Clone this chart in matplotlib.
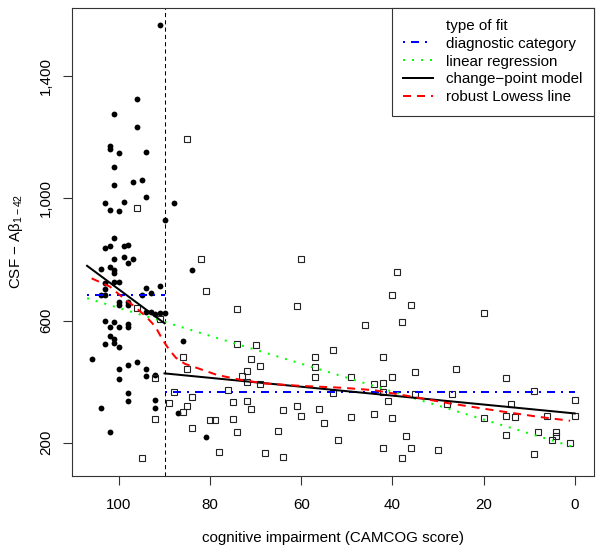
import matplotlib
matplotlib.use("Agg")
import matplotlib.pyplot as plt
from matplotlib.lines import Line2D
from matplotlib.ticker import FuncFormatter

plt.rcParams['font.family'] = ['Liberation Sans', 'DejaVu Sans']
plt.rcParams['mathtext.fontset'] = 'custom'
plt.rcParams['mathtext.rm'] = 'Liberation Sans'
plt.rcParams['mathtext.it'] = 'Liberation Sans:italic'
plt.rcParams['mathtext.default'] = 'regular'

# controls (filled circles)
ctrl_x = [91, 96, 101, 96, 102, 102, 100, 94, 101, 101, 97, 95, 94, 103, 102, 100, 99, 88, 90, 101,
          103, 102, 99, 98, 101, 99, 97, 98, 104, 102, 101, 101, 84, 101, 100, 103, 103, 103, 104, 94,
          91, 93, 95, 100, 100, 98, 98, 94, 93, 92, 91, 90, 103, 101, 102, 100, 98, 98, 102, 101,
          101, 100, 103, 86, 106, 100, 98, 96, 94, 100, 94, 92, 98, 98, 92, 92, 104, 102, 87, 81]
ctrl_y = [1567, 1324, 1275, 1234, 1171, 1160, 1147, 1151, 1103, 1042, 1053, 1060, 1005, 983, 961, 958, 988, 985, 929, 869,
          837, 845, 844, 848, 802, 809, 800, 788, 769, 775, 765, 757, 764, 727, 727, 723, 703, 683, 683, 705,
          712, 690, 682, 662, 651, 662, 651, 628, 627, 620, 623, 626, 598, 595, 579, 579, 590, 579, 548, 538,
          525, 513, 522, 533, 474, 442, 454, 463, 441, 408, 417, 422, 362, 337, 341, 315, 314, 234, 297, 220]

# patients (open squares)
pat_x = [85, 96, 92, 91, 96, 92, 95, 86, 85, 88, 84, 89, 85, 86, 84, 78, 80, 79, 76, 75,
         75, 74, 72, 71, 74, 70, 71, 69, 72, 73, 72, 69, 68, 64, 65, 64, 61, 60, 57, 57,
         57, 56, 55, 53, 53, 52, 81, 74, 61, 82, 60, 39, 40, 36, 20, 46, 38, 42, 26, 49,
         44, 42, 40, 35, 15, 42, 41, 35, 27, 9, 0, 49, 44, 40, 28, 14, 20, 15, 13, 6,
         0, 37, 36, 42, 38, 30, 15, 8, 4, 4, 5, 1, 9]
pat_y = [1193, 968, 413, 606, 642, 278, 151, 480, 441, 367, 350, 329, 321, 300, 249, 169, 274, 274, 372, 333,
         277, 234, 336, 309, 524, 520, 475, 451, 436, 417, 398, 391, 166, 308, 237, 153, 321, 286, 482, 448,
         415, 310, 265, 504, 364, 209, 698, 639, 648, 800, 800, 758, 683, 652, 625, 584, 596, 480, 440, 415,
         392, 394, 414, 430, 412, 365, 336, 359, 359, 370, 339, 285, 293, 281, 326, 327, 281, 286, 284, 286,
         288, 221, 182, 184, 149, 176, 227, 234, 236, 221, 210, 198, 164]

cutoff = 90

# diagnostic category (group means)
diag_hi_x = [107, 90]
diag_hi_y = [683, 683]
diag_lo_x = [90, 0]
diag_lo_y = [367, 367]

# linear regression
lin_x = [107, 0]
lin_y = [673, 185]

# change-point model
cp1_x = [107, 90]
cp1_y = [779, 591]
cp2_x = [90, 0]
cp2_y = [427, 296]

# robust lowess
low_x = [106, 102, 99, 96.5, 94, 92, 90.5, 89, 87.5, 85.5, 83.5, 78.5, 73, 68, 60, 51, 44, 35, 27.5, 18, 8, 1]
low_y = [738, 711, 673, 645, 612, 580, 539, 505, 478, 458, 448, 422, 405, 394, 386, 380, 372, 349, 329, 307, 285, 272]

xticks = [100, 80, 60, 40, 20, 0]
yticks = [200, 600, 1000, 1400]

fig = plt.figure(figsize=(6.0, 5.51), dpi=100)
ax = fig.add_axes([0.1205, 0.1367, 0.8695, 0.8494])

ax.plot(ctrl_x, ctrl_y, 'o', ms=4.2, color='black', mec='black', mew=0, zorder=3)
ax.plot(pat_x, pat_y, 's', ms=4.5, mfc='none', mec='#222222', mew=0.8, zorder=3)

ax.axvline(cutoff, color='black', lw=0.75, linestyle=(0, (4, 3)), zorder=2)

lw = 1.44
ax.plot(diag_hi_x, diag_hi_y, color='#0000ff', lw=lw, linestyle=(0, (1, 3, 4, 3)), zorder=4)
ax.plot(diag_lo_x, diag_lo_y, color='#0000ff', lw=lw, linestyle=(0, (1, 3, 4, 3)), zorder=4)
ax.plot(lin_x, lin_y, color='#00ff00', lw=lw, linestyle=(0, (1, 3.5)), zorder=4)
ax.plot(cp1_x, cp1_y, color='black', lw=lw, zorder=4)
ax.plot(cp2_x, cp2_y, color='black', lw=lw, zorder=4)
ax.plot(low_x, low_y, color='#ff0000', lw=lw, linestyle=(0, (4, 3)), zorder=4)

ax.set_xlim(110.24, -4.24)
ax.set_ylim(92.3, 1623.7)
ax.set_xticks(xticks)
ax.set_yticks(yticks)
ax.yaxis.set_major_formatter(FuncFormatter(lambda v, p: f"{int(v):,}"))
for lab in ax.get_yticklabels():
    lab.set_rotation(90)
    lab.set_va('center')
ax.tick_params(axis='both', labelsize=10.9, length=6.8, width=0.8, color='#333333')
ax.tick_params(axis='x', pad=9.5)
ax.tick_params(axis='y', pad=7)
for s in ax.spines.values():
    s.set_linewidth(0.8)
    s.set_color('#333333')

ax.set_xlabel('cognitive impairment (CAMCOG score)', fontsize=10.9)
ax.xaxis.set_label_coords(0.5, -0.118)
ax.set_ylabel('CSF − Aβ$_{1-42}$', fontsize=10.9)
ax.yaxis.set_label_coords(-0.09, 0.5)

handles = [Line2D([], [], linestyle='none'),
           Line2D([], [], color='#0000ff', lw=lw, linestyle=(0, (1, 3, 4, 3))),
           Line2D([], [], color='#00ff00', lw=lw, linestyle=(0, (1, 3.5))),
           Line2D([], [], color='black', lw=lw),
           Line2D([], [], color='#ff0000', lw=lw, linestyle=(0, (4, 3)))]
labels = ['type of fit', 'diagnostic category', 'linear regression',
          'change−point model', 'robust Lowess line']
leg = ax.legend(handles, labels, loc='upper right', bbox_to_anchor=(1, 1), borderaxespad=0,
                fancybox=False, edgecolor='#333333', framealpha=1, fontsize=10.9,
                handlelength=2.0, handletextpad=0.85, labelspacing=0.25, borderpad=0.75)
leg.get_frame().set_linewidth(0.8)

fig.savefig('out.png', dpi=100)
